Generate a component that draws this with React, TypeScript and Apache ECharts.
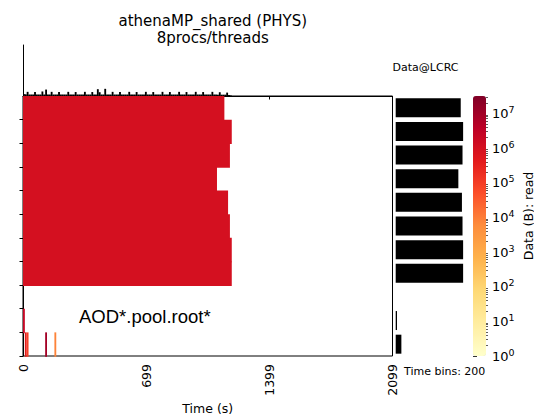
import React, { useEffect, useRef } from "react";
import * as echarts from "echarts";

// ---------------- data ----------------
const TIME_MAX = 2099; // seconds
const N_TIME_BINS = 200;
const xTickValues = [0, 699, 1399, 2099];
const ROW_COUNT = 11;

// rows 0-7: continuous reading from t=0; number of active time bins and bytes per bin
const busyRowBins = [109, 113, 112, 105, 111, 112, 113, 113];
const busyRowRate = [1.0e6, 1.0e6, 1.0e6, 1.0e6, 1.0e6, 1.0e6, 1.0e6, 1.0e6];

// sparse cells: [row, timeBin, bytes]
const sparseCells: [number, number, number][] = [
  [9, 0, 2.2e6],
  [10, 1, 4.0e5],
  [10, 2, 1.0e5],
  [10, 12, 9.0e6],
  [10, 17, 8.0e3],
];

// top marginal histogram: bytes (MB) per time bin, summed over rows
const timeBinTotalsMB = [
  10, 9, 22, 8, 8, 8, 21, 8, 8, 8,
  24, 8, 34, 8, 8, 22, 8, 8, 8, 21,
  8, 8, 8, 8, 22, 8, 8, 8, 21, 8,
  8, 8, 8, 22, 8, 8, 8, 21, 8, 8,
  36, 20, 8, 8, 38, 8, 8, 8, 22, 8,
  8, 8, 21, 8, 8, 8, 8, 22, 8, 8,
  8, 21, 8, 8, 8, 8, 22, 8, 8, 8,
  21, 8, 8, 8, 8, 22, 8, 8, 8, 21,
  8, 8, 8, 8, 22, 8, 8, 8, 21, 8,
  8, 8, 8, 22, 8, 8, 8, 21, 8, 8,
  8, 8, 22, 8, 8, 7, 20, 7, 7, 7,
  18, 5, 3,
];

const colorbarExpMax = 7.5;
const colorbarExps = [0, 1, 2, 3, 4, 5, 6, 7];
const ylOrRd = ["#ffffcc", "#ffeda0", "#fed976", "#feb24c", "#fd8d3c", "#fc4e2a", "#e31a1c", "#bd0026", "#800026"];

// ---------------- layout ----------------
const FONT = "DejaVu Sans";
const MAIN = { left: 23, top: 96, width: 369.5, height: 260 };
const TOP = { left: 23, top: 45, width: 369.5, height: 51 };
const RIGHT = { left: 395.7, top: 96, width: 71.6, height: 260 };
const CBAR = { left: 473, top: 96, width: 13, height: 260 };

export default function App() {
  const ref = useRef<HTMLDivElement>(null);
  useEffect(() => {
    if (!ref.current) return;
    const chart = echarts.init(ref.current, null, { renderer: "svg" });
    const binW = TIME_MAX / N_TIME_BINS;

    // main cells: [tStart, tEnd, row, bytes, log10(bytes)]
    const cells: number[][] = [];
    busyRowBins.forEach((nb, r) => {
      cells.push([0, nb * binW, r, busyRowRate[r], Math.log10(busyRowRate[r])]);
    });
    sparseCells.forEach(([r, b, v]) => {
      cells.push([b * binW, (b + 1) * binW, r, v, Math.log10(v)]);
    });

    // right marginal: total bytes per row
    const rowTotals = new Array(ROW_COUNT).fill(0);
    busyRowBins.forEach((nb, r) => (rowTotals[r] += nb * busyRowRate[r]));
    sparseCells.forEach(([r, , v]) => (rowTotals[r] += v));

    const topData = timeBinTotalsMB.map((v, b) => [b * binW, (b + 1) * binW, v]);

    const minorTicks: number[] = [];
    for (let e = 0; e < 8; e++) {
      for (let k = 2; k <= 9; k++) {
        const l = e + Math.log10(k);
        if (l <= colorbarExpMax) minorTicks.push(l);
      }
    }

    const rowCats = Array.from({ length: ROW_COUNT }, (_, i) => String(i));

    chart.setOption({
      animation: false,
      title: {
        text: "athenaMP_shared (PHYS)\n8procs/threads",
        left: MAIN.left + MAIN.width / 2,
        top: 7,
        textAlign: "center",
        textStyle: { fontFamily: FONT, fontSize: 15, fontWeight: "normal", color: "#000", lineHeight: 17 },
      },
      visualMap: {
        type: "continuous",
        seriesIndex: 0,
        dimension: 4,
        min: 0,
        max: colorbarExpMax,
        inRange: { color: ylOrRd },
        orient: "vertical",
        left: CBAR.left,
        top: CBAR.top,
        itemWidth: CBAR.width,
        itemHeight: CBAR.height,
        padding: 0,
        text: null,
        calculable: false,
        hoverLink: false,
      },
      grid: [
        { ...MAIN, show: true, borderColor: "#000", borderWidth: 1, backgroundColor: "transparent" },
        { ...TOP },
        { ...RIGHT },
        { ...CBAR },
      ],
      xAxis: [
        {
          gridIndex: 0,
          type: "value",
          min: 0,
          max: TIME_MAX,
          axisLine: { show: true, lineStyle: { color: "#000", width: 1 } },
          axisTick: { show: true, length: 3.5, customValues: xTickValues, lineStyle: { color: "#000" } },
          axisLabel: {
            show: true,
            customValues: xTickValues,
            formatter: (v: number) => String(v),
            rotate: 90,
            margin: 8,
            fontFamily: FONT,
            fontSize: 12.5,
            color: "#000",
          },
          splitLine: { show: false },
        },
        { gridIndex: 1, type: "value", min: 0, max: TIME_MAX, show: false },
        { gridIndex: 2, type: "value", min: 0, max: 1.2e8, show: false },
        { gridIndex: 3, type: "value", min: 0, max: 1, show: false },
      ],
      yAxis: [
        {
          gridIndex: 0,
          type: "value",
          min: 0,
          max: ROW_COUNT,
          inverse: true,
          axisLine: { show: true, lineStyle: { color: "#000", width: 1 } },
          axisTick: {
            show: true,
            length: 3.5,
            customValues: [1, 2, 3, 4, 5, 6, 7, 8, 9, 10, 11],
            lineStyle: { color: "#000" },
          },
          axisLabel: { show: false },
          splitLine: { show: false },
        },
        {
          gridIndex: 1,
          type: "value",
          min: 0,
          max: 270,
          axisLine: { show: true, lineStyle: { color: "#000", width: 1 } },
          axisTick: { show: false },
          axisLabel: { show: false },
          splitLine: { show: false },
        },
        {
          gridIndex: 2,
          type: "category",
          data: rowCats,
          inverse: true,
          show: false,
        },
        {
          gridIndex: 3,
          type: "value",
          min: 0,
          max: colorbarExpMax,
          position: "right",
          axisLine: { show: false },
          axisTick: { show: true, length: 4, customValues: colorbarExps, lineStyle: { color: "#333" } },
          axisLabel: {
            show: true,
            customValues: colorbarExps,
            margin: 6,
            formatter: (v: number) => `{b|10}{s|${v}}`,
            rich: {
              b: { fontFamily: FONT, fontSize: 13, color: "#000" },
              s: { fontFamily: FONT, fontSize: 9.5, color: "#000", padding: [0, 0, 8, 0] },
            },
          },
          splitLine: { show: false },
        },
        {
          gridIndex: 3,
          type: "value",
          min: 0,
          max: colorbarExpMax,
          position: "right",
          axisLine: { show: false },
          axisTick: { show: true, length: 2, customValues: minorTicks, lineStyle: { color: "#333", width: 0.8 } },
          axisLabel: { show: false },
          splitLine: { show: false },
        },
      ],
      series: [
        {
          type: "custom",
          xAxisIndex: 0,
          yAxisIndex: 0,
          data: cells,
          encode: { x: [0, 1], y: 2 },
          renderItem: (params: any, api: any) => {
            const p0 = api.coord([api.value(0), api.value(2)]);
            const p1 = api.coord([api.value(1), api.value(2) + 1]);
            const c = api.visual("color");
            return {
              type: "rect",
              shape: { x: p0[0], y: p0[1], width: p1[0] - p0[0], height: p1[1] - p0[1] + 0.8 },
              style: { fill: c },
            };
          },
        },
        {
          type: "custom",
          xAxisIndex: 1,
          yAxisIndex: 1,
          data: topData,
          encode: { x: [0, 1], y: 2 },
          renderItem: (params: any, api: any) => {
            const p0 = api.coord([api.value(0), api.value(2)]);
            const p1 = api.coord([api.value(1), 0]);
            return {
              type: "rect",
              shape: { x: p0[0], y: p0[1], width: p1[0] - p0[0], height: p1[1] - p0[1] },
              style: { fill: "#000" },
            };
          },
        },
        {
          type: "bar",
          xAxisIndex: 2,
          yAxisIndex: 2,
          data: rowTotals,
          barWidth: 19,
          itemStyle: { color: "#000" },
        },
      ],
      graphic: [
        {
          type: "text",
          x: 425.5,
          y: 67,
          style: { text: "Data@LCRC", font: `11px "${FONT}"`, fill: "#000", align: "center", verticalAlign: "middle" },
        },
        {
          type: "text",
          x: 404,
          y: 371,
          style: { text: "Time bins: 200", font: `11px "${FONT}"`, fill: "#000", align: "left", verticalAlign: "middle" },
        },
        {
          type: "text",
          x: 79,
          y: 316,
          style: { text: "AOD*.pool.root*", font: `18.5px "Liberation Sans"`, fill: "#000", align: "left", verticalAlign: "middle" },
        },
        {
          type: "text",
          x: MAIN.left + MAIN.width / 2,
          y: 408,
          style: { text: "Time (s)", font: `12.5px "${FONT}"`, fill: "#000", align: "center", verticalAlign: "middle" },
        },
        {
          type: "text",
          x: 528,
          y: 216,
          rotation: Math.PI / 2,
          style: { text: "Data (B): read", font: `12.5px "${FONT}"`, fill: "#000", align: "center", verticalAlign: "middle" },
        },
      ],
    });
    return () => chart.dispose();
  }, []);
  return <div ref={ref} style={{ position: "fixed", left: 0, top: 0, width: 534, height: 415, background: "#fff" }} />;
}
